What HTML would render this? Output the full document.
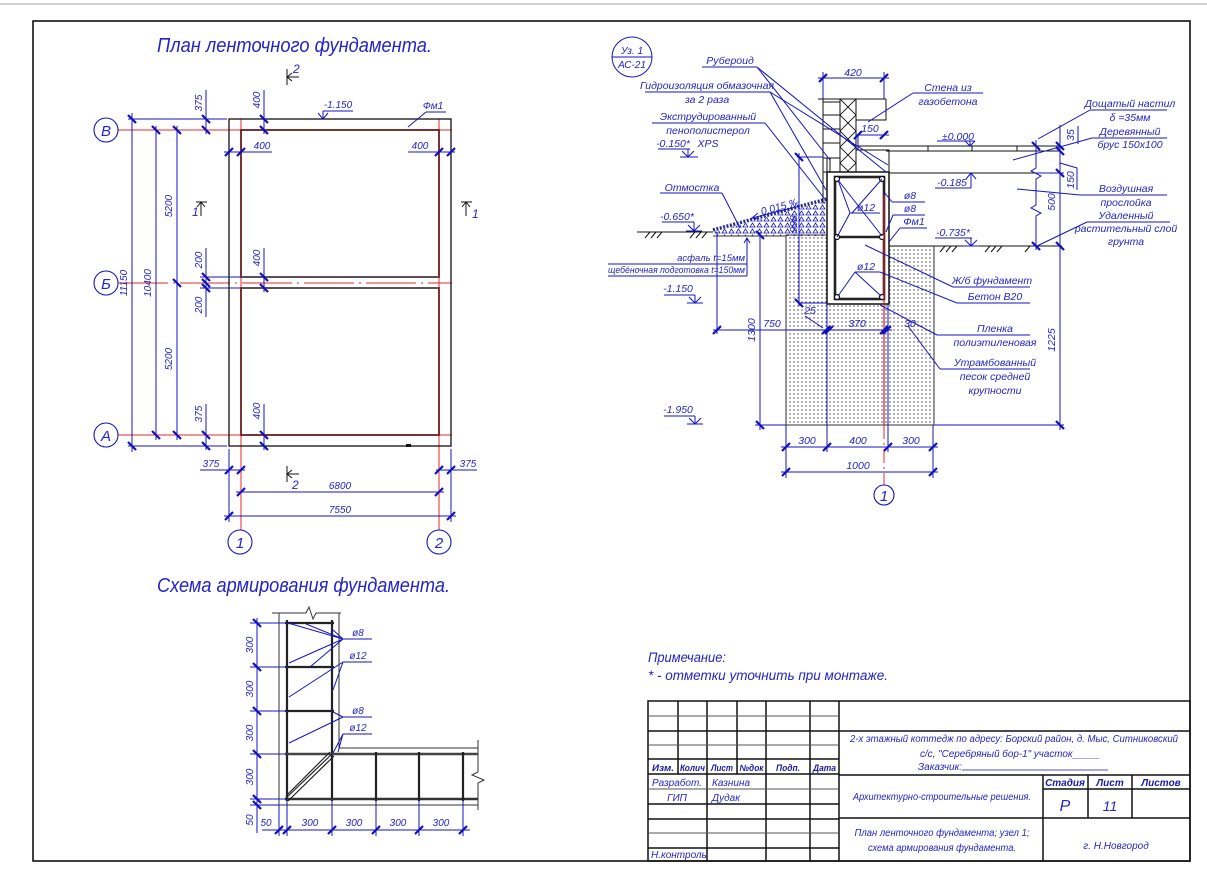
<!DOCTYPE html>
<html><head><meta charset="utf-8"><style>
html,body{margin:0;padding:0;background:#fff;}
svg{display:block}
text{font-family:"Liberation Sans","DejaVu Sans",sans-serif;font-style:italic;fill:#2424c8;}
.b{font-weight:bold;fill:#1a1aa8}
</style></head><body>
<svg width="1207" height="875" viewBox="0 0 1207 875" xmlns="http://www.w3.org/2000/svg">
<defs>
<pattern id="dots" width="4" height="4" patternUnits="userSpaceOnUse"><circle cx="2" cy="2" r="0.7" fill="#3a3a5a"/></pattern>
<pattern id="tri" width="7" height="6" patternUnits="userSpaceOnUse"><path d="M1,5 L3.5,1 L6,5 Z" fill="none" stroke="#1a1ab0" stroke-width="0.8"/></pattern>
<pattern id="xh" width="16" height="16" patternUnits="userSpaceOnUse" patternTransform="translate(840,99)"><path d="M0,0 L16,16 M16,0 L0,16" stroke="#111" stroke-width="0.9"/></pattern>
</defs>
<rect width="1207" height="875" fill="#fff"/>
<line x1="0" y1="4" x2="1207" y2="4" stroke="#d0d0d0" stroke-width="2"/>
<!-- frame -->
<rect x="33" y="21" width="1157" height="840" fill="none" stroke="#111" stroke-width="1.6"/>

<!-- ================= PLAN ================= -->
<text x="157" y="52" font-size="20" textLength="275" lengthAdjust="spacingAndGlyphs">План ленточного фундамента.</text>

<g stroke="#e02a2a" stroke-width="1" fill="none">
<line x1="118" y1="130" x2="452" y2="130"/>
<line x1="118" y1="283" x2="452" y2="283" stroke-dasharray="50,5,2,5"/>
<line x1="118" y1="435" x2="452" y2="435"/>
<line x1="241" y1="119" x2="241" y2="530"/>
<line x1="439" y1="119" x2="439" y2="530"/>
</g>
<rect x="229" y="119" width="222" height="327" fill="none" stroke="#111" stroke-width="1.3"/>
<rect x="241" y="130" width="198" height="147" fill="none" stroke="#6b1c1c" stroke-width="1.8"/>
<rect x="241" y="288" width="198" height="147" fill="none" stroke="#6b1c1c" stroke-width="1.8"/>
<line x1="241" y1="277" x2="439" y2="277" stroke="#555" stroke-width="1.8"/>
<line x1="241" y1="288" x2="439" y2="288" stroke="#555" stroke-width="1.8"/>
<rect x="406" y="444" width="5" height="3" fill="#111"/>

<!-- axis circles -->
<g fill="#fff" stroke="#1515c0" stroke-width="1.1">
<circle cx="106" cy="130" r="12"/><circle cx="106" cy="283" r="12"/><circle cx="106" cy="435" r="12"/>
<circle cx="240" cy="542" r="12"/><circle cx="439" cy="542" r="12"/>
</g>
<g font-size="15" text-anchor="middle">
<text x="106" y="136">В</text><text x="106" y="289">Б</text><text x="106" y="441">А</text>
<text x="240" y="548">1</text><text x="439" y="548">2</text>
</g>

<!-- plan dim lines -->
<g stroke="#1515c0" stroke-width="1" fill="none">
<line x1="132" y1="113" x2="132" y2="452"/>
<line x1="156" y1="126" x2="156" y2="440"/>
<line x1="177" y1="126" x2="177" y2="440"/>
<line x1="206" y1="90" x2="206" y2="134"/>
<line x1="206" y1="248" x2="206" y2="317"/>
<line x1="206" y1="404" x2="206" y2="450"/>
<line x1="264" y1="90" x2="264" y2="134"/>
<line x1="264" y1="248" x2="264" y2="292"/>
<line x1="264" y1="404" x2="264" y2="450"/>
<line x1="128" y1="119" x2="227" y2="119"/>
<line x1="128" y1="446" x2="227" y2="446"/>
<line x1="200" y1="277" x2="241" y2="277"/>
<line x1="200" y1="288" x2="241" y2="288"/>
<line x1="224" y1="152" x2="272" y2="152"/>
<line x1="408" y1="152" x2="455" y2="152"/>
<line x1="200" y1="470" x2="245" y2="470"/>
<line x1="436" y1="470" x2="477" y2="470"/>
<line x1="236" y1="492" x2="444" y2="492"/>
<line x1="224" y1="516" x2="456" y2="516"/>
<line x1="229" y1="449" x2="229" y2="522"/>
<line x1="451" y1="449" x2="451" y2="522"/>
<line x1="323" y1="111" x2="353" y2="111"/>
<line x1="323" y1="111" x2="323" y2="119"/>
<path d="M318,113 L323,119 L328,113"/>
<line x1="408" y1="127" x2="426" y2="112"/><line x1="426" y1="112" x2="446" y2="112"/>
</g>
<g stroke="#1010c0" stroke-width="2.2">
<path d="M128,115 L136,123 M128,442 L136,450 M152,126 L160,134 M152,431 L160,439 M173,126 L181,134 M173,279 L181,287 M173,431 L181,439
M202,115 L210,123 M202,126 L210,134 M202,273 L210,281 M202,279 L210,287 M202,284 L210,292 M202,431 L210,439 M202,442 L210,450
M260,115 L268,123 M260,126 L268,134 M260,273 L268,281 M260,284 L268,292 M260,431 L268,439 M260,442 L268,450"/>
<path d="M225,156 L233,148 M237,156 L245,148 M435,156 L443,148 M447,156 L455,148
M225,474 L233,466 M237,474 L245,466 M435,474 L443,466 M447,474 L455,466
M237,496 L245,488 M435,496 L443,488 M225,520 L233,512 M447,520 L455,512"/>
</g>
<g font-size="10" text-anchor="middle">
<text transform="rotate(-90 127 283)" x="127" y="283">11150</text>
<text transform="rotate(-90 151 283)" x="151" y="283">10400</text>
<text transform="rotate(-90 172 206)" x="172" y="206">5200</text>
<text transform="rotate(-90 172 359)" x="172" y="359">5200</text>
<text transform="rotate(-90 202 103)" x="202" y="103">375</text>
<text transform="rotate(-90 260 100)" x="260" y="100">400</text>
<text transform="rotate(-90 202 260)" x="202" y="260">200</text>
<text transform="rotate(-90 260 258)" x="260" y="258">400</text>
<text transform="rotate(-90 202 305)" x="202" y="305">200</text>
<text transform="rotate(-90 202 414)" x="202" y="414">375</text>
<text transform="rotate(-90 260 411)" x="260" y="411">400</text>
<text x="262" y="149">400</text>
<text x="420" y="149">400</text>
<text x="211" y="467">375</text>
<text x="468" y="467">375</text>
<text x="340" y="489">6800</text>
<text x="340" y="513">7550</text>
<text x="338" y="108">-1.150</text>
<text x="433" y="109">Фм1</text>
</g>
<!-- section marks -->
<g stroke="#111" stroke-width="1" fill="none">
<line x1="287" y1="69" x2="287" y2="85"/><line x1="287" y1="77" x2="299" y2="77"/><path d="M292,73 L287,77 L292,81"/>
<line x1="287" y1="466" x2="287" y2="482"/><line x1="287" y1="474" x2="299" y2="474"/><path d="M292,470 L287,474 L292,478"/>
<line x1="196" y1="202" x2="207" y2="202"/><line x1="201" y1="202" x2="201" y2="216"/><path d="M197,207 L201,202 L205,207"/>
<line x1="461" y1="202" x2="472" y2="202"/><line x1="466" y1="202" x2="466" y2="216"/><path d="M462,207 L466,202 L470,207"/>
</g>
<g font-size="12">
<text x="293" y="73">2</text><text x="292" y="489">2</text>
<text x="192" y="216">1</text><text x="472" y="218">1</text>
</g>

<!-- ================= REINFORCEMENT SCHEME ================= -->
<text x="157" y="592" font-size="20" textLength="293" lengthAdjust="spacingAndGlyphs">Схема армирования фундамента.</text>
<g stroke="#333" stroke-width="1" fill="none">
<line x1="272" y1="613" x2="306" y2="613"/><path d="M306,613 L309,607 L313,619 L316,613"/><line x1="316" y1="613" x2="341" y2="613"/>
<line x1="279" y1="613" x2="279" y2="805"/>
<line x1="339" y1="613" x2="339" y2="748"/>
<line x1="339" y1="748" x2="478" y2="748"/>
<line x1="279" y1="805" x2="478" y2="805"/>
<path d="M478,740 L478,772 L472,775 L484,780 L478,783 L478,810"/>
</g>
<g stroke="#222" stroke-width="2.2" fill="none">
<line x1="287" y1="620" x2="287" y2="801"/>
<line x1="332" y1="620" x2="332" y2="801"/>
<line x1="285" y1="623" x2="334" y2="623"/>
<line x1="285" y1="667" x2="334" y2="667"/>
<line x1="285" y1="711" x2="334" y2="711"/>
<line x1="285" y1="754" x2="478" y2="754" stroke="#444" stroke-width="2.6"/>
<line x1="285" y1="799" x2="478" y2="799" stroke="#333" stroke-width="2.6"/>
<line x1="376" y1="752" x2="376" y2="801"/>
<line x1="419" y1="752" x2="419" y2="801"/>
<line x1="463" y1="752" x2="463" y2="801"/>
<path d="M285,799 L332,754 M288,801 L334,756 M286,796 L330,752" stroke-width="1.2"/>
</g>
<g stroke="#1515c0" stroke-width="1" fill="none">
<line x1="343" y1="639" x2="372" y2="639"/><line x1="343" y1="662" x2="372" y2="662"/>
<line x1="343" y1="717" x2="372" y2="717"/><line x1="343" y1="734" x2="372" y2="734"/>
<path d="M343,639 L288,623 M343,639 L306,624 M343,639 L289,663 M343,639 L310,667 M343,639 L333,630"/>
<path d="M343,662 L289,697 M343,662 L333,690"/>
<path d="M343,717 L289,743 M343,717 L333,712"/>
<path d="M343,734 L333,753 M343,734 L338,752"/>
<line x1="257" y1="618" x2="257" y2="833"/>
<line x1="250" y1="623" x2="287" y2="623"/><line x1="250" y1="667" x2="287" y2="667"/>
<line x1="250" y1="711" x2="287" y2="711"/><line x1="250" y1="754" x2="287" y2="754"/>
<line x1="250" y1="799" x2="287" y2="799"/><line x1="250" y1="805" x2="279" y2="805"/>
<line x1="262" y1="830" x2="470" y2="830"/>
<line x1="279" y1="805" x2="279" y2="836"/><line x1="287" y1="801" x2="287" y2="836"/>
<line x1="332" y1="801" x2="332" y2="836"/><line x1="376" y1="801" x2="376" y2="836"/>
<line x1="419" y1="801" x2="419" y2="836"/><line x1="463" y1="801" x2="463" y2="836"/>
</g>
<g stroke="#1010c0" stroke-width="2.2">
<path d="M253,619 L261,627 M253,663 L261,671 M253,707 L261,715 M253,750 L261,758 M253,795 L261,803 M253,801 L261,809
M275,834 L283,826 M283,834 L291,826 M328,834 L336,826 M372,834 L380,826 M415,834 L423,826 M459,834 L467,826"/>
</g>
<g font-size="10" text-anchor="middle">
<text transform="rotate(-90 253 645)" x="253" y="645">300</text>
<text transform="rotate(-90 253 689)" x="253" y="689">300</text>
<text transform="rotate(-90 253 733)" x="253" y="733">300</text>
<text transform="rotate(-90 253 777)" x="253" y="777">300</text>
<text transform="rotate(-90 253 820)" x="253" y="820">50</text>
<text x="266" y="826">50</text>
<text x="310" y="826">300</text><text x="354" y="826">300</text>
<text x="398" y="826">300</text><text x="441" y="826">300</text>
<text x="358" y="636">ø8</text><text x="358" y="659">ø12</text>
<text x="358" y="714">ø8</text><text x="358" y="731">ø12</text>
</g>

<!-- ================= SECTION ================= -->
<circle cx="632" cy="57" r="20" fill="none" stroke="#1515c0" stroke-width="1"/>
<line x1="612" y1="57" x2="652" y2="57" stroke="#1515c0" stroke-width="1"/>
<g font-size="10" text-anchor="middle">
<text x="632" y="54">Уз. 1</text><text x="632" y="68">АС-21</text>
</g>

<path d="M786,235 L827,235 L827,304 L889,304 L889,246 L934,246 L934,425 L786,425 Z" fill="url(#dots)" stroke="#333" stroke-width="1"/>
<path d="M713,232 L827,201 L827,236 L716,236 Z" fill="url(#tri)" stroke="none"/>
<path d="M713,230 L827,199" stroke="#2a2a90" stroke-width="3.5" stroke-dasharray="2,1.5" fill="none"/>
<line x1="713" y1="236" x2="786" y2="236" stroke="#333" stroke-width="1"/>
<g stroke="#111" stroke-width="1" fill="none">
<line x1="637" y1="232" x2="713" y2="232"/>
<path d="M645,238 L650,232 M651,238 L656,232 M657,238 L662,232 M690,238 L695,232 M696,238 L701,232 M702,238 L707,232"/>
<line x1="889" y1="246" x2="1062" y2="246"/>
<path d="M940,252 L945,246 M946,252 L951,246 M952,252 L957,246 M985,252 L990,246 M991,252 L996,246 M997,252 L1002,246 M1025,252 L1030,246"/>
<line x1="823" y1="158" x2="823" y2="203"/>
<line x1="827" y1="158" x2="827" y2="172"/>
<line x1="818" y1="99" x2="886" y2="99"/>
<rect x="823" y="99" width="17" height="73"/>
<path d="M823,102 L840,102 M823,115 L840,115 M823,129 L840,129 M823,143 L840,143 M823,158 L840,158 M830,158 L830,172"/>
<rect x="840" y="99" width="16" height="73" fill="url(#xh)"/>
<path d="M856,120 L886,120 L886,99 M856,150 L889,150 L889,172"/>
<line x1="856" y1="146" x2="1060" y2="146"/>
<line x1="886" y1="151" x2="1060" y2="151"/>
<path d="M928,146 L928,151 M972,146 L972,151 M1017,146 L1017,151"/>
<line x1="889" y1="173" x2="1040" y2="173"/>
</g>
<rect x="827" y="172" width="62" height="132" fill="#fff" stroke="#111" stroke-width="1.5"/>
<rect x="835" y="177" width="49" height="122" fill="none" stroke="#222" stroke-width="2.6"/>
<line x1="835" y1="237" x2="884" y2="237" stroke="#222" stroke-width="2.6"/>
<g fill="#fff" stroke="#111" stroke-width="1.2">
<circle cx="837" cy="179" r="2.5"/><circle cx="882" cy="179" r="2.5"/>
<circle cx="837" cy="237" r="2.5"/><circle cx="882" cy="237" r="2.5"/>
<circle cx="837" cy="297" r="2.5"/><circle cx="882" cy="297" r="2.5"/>
</g>
<line x1="884" y1="195" x2="884" y2="425" stroke="#d02020" stroke-width="1.2"/>
<line x1="884" y1="425" x2="884" y2="485" stroke="#e02a2a" stroke-width="1" stroke-dasharray="14,4,2,4"/>
<circle cx="884" cy="495" r="10" fill="#fff" stroke="#1515c0" stroke-width="1.1"/>
<text x="884" y="501" font-size="15" text-anchor="middle">1</text>

<g stroke="#1515c0" stroke-width="1" fill="none">
<line x1="702" y1="67" x2="757" y2="67"/><line x1="757" y1="67" x2="886" y2="172"/><line x1="757" y1="67" x2="830" y2="160"/>
<line x1="645" y1="92" x2="770" y2="92"/><line x1="770" y1="92" x2="826" y2="190"/><line x1="770" y1="92" x2="888" y2="165"/>
<line x1="652" y1="123" x2="765" y2="123"/><line x1="765" y1="123" x2="824" y2="198"/>
<line x1="658" y1="149" x2="690" y2="149"/><path d="M688,149 L688,157 M682,151 L688,157 L694,151 M680,157 L698,157"/>
<line x1="660" y1="193" x2="722" y2="193"/><line x1="722" y1="193" x2="740" y2="228"/>
<line x1="662" y1="222" x2="694" y2="222"/><path d="M694,222 L694,231 M688,225 L694,231 L700,225 M686,231 L702,231"/>
<line x1="752" y1="218" x2="800" y2="206"/><path d="M758,213 L752,218 L759,219"/>
<line x1="608" y1="264" x2="747" y2="264"/><line x1="608" y1="276" x2="747" y2="276"/>
<line x1="747" y1="238" x2="747" y2="276"/><path d="M744,243 L747,238 L750,243"/>
<line x1="717" y1="232" x2="717" y2="334"/>
<line x1="664" y1="295" x2="695" y2="295"/><path d="M695,295 L695,303 M689,297 L695,303 L701,297 M687,303 L703,303"/>
<line x1="664" y1="416" x2="695" y2="416"/><path d="M695,416 L695,424 M689,418 L695,424 L701,418 M687,424 L703,424"/>
<line x1="799" y1="153" x2="799" y2="306"/><line x1="797" y1="157" x2="823" y2="157"/><line x1="799" y1="303" x2="827" y2="303"/>
<line x1="713" y1="330" x2="892" y2="330"/>
<line x1="805" y1="316" x2="823" y2="328"/>
<line x1="760" y1="232" x2="760" y2="430"/>
<line x1="755" y1="425" x2="786" y2="425"/><line x1="934" y1="425" x2="1064" y2="425"/>
<line x1="827" y1="304" x2="827" y2="452"/><line x1="888" y1="304" x2="888" y2="452"/>
<line x1="786" y1="425" x2="786" y2="478"/><line x1="933" y1="425" x2="933" y2="478"/>
<line x1="781" y1="447" x2="938" y2="447"/><line x1="781" y1="472" x2="938" y2="472"/>
<line x1="823" y1="72" x2="823" y2="99"/><line x1="884" y1="72" x2="884" y2="99"/><line x1="818" y1="78" x2="889" y2="78"/>
<line x1="856" y1="135" x2="889" y2="135"/><line x1="858" y1="135" x2="858" y2="150"/>
<line x1="913" y1="93" x2="983" y2="93"/><line x1="913" y1="93" x2="868" y2="122"/>
<line x1="935" y1="188" x2="971" y2="188"/><path d="M971,188 L971,173 M966,179 L971,173 L976,179"/>
<line x1="935" y1="238" x2="972" y2="238"/><path d="M971,238 L971,246 M965,240 L971,246 L977,240 M963,246 L979,246"/>
<line x1="1038" y1="139" x2="1090" y2="110"/><line x1="1090" y1="110" x2="1167" y2="110"/>
<line x1="1013" y1="160" x2="1092" y2="138"/><line x1="1092" y1="138" x2="1167" y2="138"/>
<line x1="1017" y1="189" x2="1080" y2="195"/><line x1="1080" y1="195" x2="1167" y2="195"/>
<line x1="1037" y1="246" x2="1087" y2="222"/><line x1="1087" y1="222" x2="1170" y2="222"/>
<path d="M1036,140 L1036,168 L1031,171 L1041,176 L1036,179 L1036,205 L1031,208 L1041,213 L1036,216 L1036,250"/>
<line x1="1036" y1="173" x2="1064" y2="173"/>
<line x1="1060" y1="125" x2="1060" y2="430"/>
<line x1="1078" y1="126" x2="1078" y2="144"/>
<path d="M1060,163 L1077,168 L1077,190"/>
<line x1="892" y1="202" x2="925" y2="202"/><line x1="892" y1="202" x2="884" y2="192"/>
<line x1="893" y1="215" x2="925" y2="215"/><line x1="893" y1="215" x2="886" y2="232"/>
<line x1="900" y1="228" x2="927" y2="228"/><line x1="900" y1="228" x2="889" y2="242"/>
<line x1="850" y1="213" x2="880" y2="213"/><path d="M850,213 L838,180 M850,213 L837,237 M852,213 L882,179"/><line x1="838" y1="180" x2="882" y2="236"/>
<line x1="855" y1="272" x2="880" y2="272"/><path d="M855,272 L838,296 M855,272 L881,296"/>
<line x1="880" y1="272" x2="957" y2="303"/><line x1="957" y1="303" x2="1030" y2="303"/>
<line x1="865" y1="245" x2="953" y2="287"/><line x1="953" y1="287" x2="1030" y2="287"/>
<line x1="880" y1="305" x2="937" y2="335"/><line x1="937" y1="335" x2="1030" y2="335"/>
<line x1="908" y1="326" x2="940" y2="369"/><line x1="940" y1="369" x2="1030" y2="369"/>
</g>
<g stroke="#1010c0" stroke-width="2.2">
<path d="M819,82 L827,74 M880,82 L888,74 M854,139 L862,131 M880,139 L888,131
M795,153 L803,161 M795,299 L803,307
M713,334 L721,326 M822,334 L830,326 M825,334 L833,326 M880,334 L888,326 M883,334 L891,326
M756,231 L764,239 M756,421 L764,429
M782,451 L790,443 M823,451 L831,443 M884,451 L892,443 M929,451 L937,443 M782,476 L790,468 M929,476 L937,468
M1032,142 L1040,150 M1032,242 L1040,250
M1056,142 L1064,150 M1056,147 L1064,155 M1056,169 L1064,177 M1056,242 L1064,250 M1056,421 L1064,429"/>
</g>
<g font-size="10.5" text-anchor="middle">
<text x="730" y="64">Рубероид</text>
<text x="707" y="89">Гидроизоляция обмазочная</text>
<text x="707" y="103">за 2 раза</text>
<text x="708" y="120">Экструдированный</text>
<text x="708" y="134">пенополистерол</text>
<text x="708" y="147">XPS</text>
<text x="673" y="147">-0.150*</text>
<text x="692" y="191">Отмостка</text>
<text x="677" y="220">-0.650*</text>
<text transform="rotate(-15 781 210)" x="781" y="210">0.015 ‰</text>
<text x="853" y="76">420</text>
<text x="870" y="132">150</text>
<text x="948" y="91">Стена из</text>
<text x="948" y="105">газобетона</text>
<text x="958" y="140">±0.000</text>
<text x="1130" y="107">Дощатый настил</text>
<text x="1130" y="121">δ =35мм</text>
<text x="1130" y="135">Деревянный</text>
<text x="1130" y="148">брус 150x100</text>
<text x="952" y="186">-0.185</text>
<text x="1126" y="192">Воздушная</text>
<text x="1126" y="206">прослойка</text>
<text x="1126" y="219">Удаленный</text>
<text x="1126" y="232">растительный слой</text>
<text x="1126" y="245">грунта</text>
<text x="953" y="236">-0.735*</text>
<text x="910" y="199">ø8</text>
<text x="910" y="212">ø8</text>
<text x="914" y="225">Фм1</text>
<text x="866" y="211">ø12</text>
<text x="866" y="270">ø12</text>
<text x="992" y="284">Ж/б фундамент</text>
<text x="995" y="300">Бетон B20</text>
<text x="995" y="332">Пленка</text>
<text x="995" y="346">полиэтиленовая</text>
<text x="995" y="366">Утрамбованный</text>
<text x="995" y="380">песок средней</text>
<text x="995" y="394">крупности</text>
<text x="910" y="327">30</text>
<text x="810" y="314">25</text>
<text x="772" y="327">750</text>
<text x="857" y="327">370</text>
<text x="807" y="444">300</text>
<text x="858" y="444">400</text>
<text x="911" y="444">300</text>
<text x="858" y="469">1000</text>
<text x="678" y="292">-1.150</text>
<text x="678" y="413">-1.950</text>
<text transform="rotate(-90 797 224)" x="797" y="224">998</text>
<text transform="rotate(-90 755 330)" x="755" y="330">1300</text>
<text transform="rotate(-90 1055 340)" x="1055" y="340">1225</text>
<text transform="rotate(-90 1055 202)" x="1055" y="202">500</text>
<text transform="rotate(-90 1074 135)" x="1074" y="135">35</text>
<text transform="rotate(-90 1074 180)" x="1074" y="180">150</text>
</g>
<text x="745" y="261" font-size="9.5" text-anchor="end">асфаль t=15мм</text>
<text x="608" y="273" font-size="9.5" textLength="137" lengthAdjust="spacingAndGlyphs">щебёночная подготовка t=150мм</text>
<line x1="937" y1="141" x2="975" y2="141" stroke="#1515c0"/>
<path d="M970,141 L970,146 M965,141 L970,146 L975,141" stroke="#1515c0" fill="none"/>

<!-- notes -->
<text x="648" y="662" font-size="13.5" textLength="78" lengthAdjust="spacingAndGlyphs">Примечание:</text>
<text x="648" y="680" font-size="13.5" textLength="240" lengthAdjust="spacingAndGlyphs">* - отметки уточнить при монтаже.</text>

<!-- ================= TITLE BLOCK ================= -->
<g stroke="#111" stroke-width="1.5" fill="none">
<rect x="648" y="701" width="542" height="160"/>
<line x1="839" y1="701" x2="839" y2="861"/>
<path d="M678,701 L678,774 M707,701 L707,861 M737,701 L737,774 M766,701 L766,861 M810,701 L810,861"/>
<path d="M648,731 L839,731 M648,759 L839,759 M648,774 L839,774 M648,804 L839,804 M648,819 L839,819 M648,848 L839,848"/>
<path d="M839,731 L1190,731 M839,775 L1190,775 M839,818 L1190,818"/>
<path d="M1043,775 L1043,861 M1088,775 L1088,818 M1132,775 L1132,818 M1043,789 L1190,789"/>
</g>
<g stroke="#555" stroke-width="1" fill="none">
<path d="M648,716 L839,716 M648,745 L839,745 M648,789 L839,789 M648,833 L839,833"/>
</g>
<g font-size="9" text-anchor="middle">
<text class="b" x="663" y="771" textLength="22" lengthAdjust="spacingAndGlyphs">Изм.</text>
<text class="b" x="692.5" y="771" textLength="25" lengthAdjust="spacingAndGlyphs">Колич</text>
<text class="b" x="722" y="771" textLength="22" lengthAdjust="spacingAndGlyphs">Лист</text>
<text class="b" x="751.5" y="771" textLength="24" lengthAdjust="spacingAndGlyphs">№док</text>
<text class="b" x="788" y="771" textLength="24" lengthAdjust="spacingAndGlyphs">Подп.</text>
<text class="b" x="824.5" y="771" textLength="23" lengthAdjust="spacingAndGlyphs">Дата</text>
</g>
<g font-size="10" text-anchor="middle">
<text class="b" x="1065" y="786">Стадия</text>
<text class="b" x="1110" y="786">Лист</text>
<text class="b" x="1161" y="786">Листов</text>
</g>
<g font-size="10">
<text x="677" y="786" text-anchor="middle">Разработ.</text>
<text x="712" y="786">Казнина</text>
<text x="677" y="801" text-anchor="middle">ГИП</text>
<text x="712" y="801">Дудак</text>
<text x="651" y="858">Н.контроль</text>
<text x="850" y="742" textLength="328" lengthAdjust="spacingAndGlyphs">2-х этажный коттедж по адресу: Борский район, д. Мыс, Ситниковский</text>
<text x="920" y="757" textLength="180" lengthAdjust="spacingAndGlyphs">с/с, "Серебряный бор-1" участок_____</text>
<text x="918" y="770">Заказчик:</text>
<text x="942" y="800" text-anchor="middle" textLength="178" lengthAdjust="spacingAndGlyphs">Архитектурно-строительные решения.</text>
<text x="942" y="836" text-anchor="middle" textLength="175" lengthAdjust="spacingAndGlyphs">План ленточного фундамента; узел 1;</text>
<text x="942" y="851" text-anchor="middle" textLength="148" lengthAdjust="spacingAndGlyphs">схема армирования фундамента.</text>
<text x="1116" y="849" text-anchor="middle">г. Н.Новгород</text>
</g>
<line x1="962" y1="770" x2="1108" y2="770" stroke="#1515c0" stroke-width="0.8"/>
<text x="1065" y="811" font-size="16" text-anchor="middle">Р</text>
<text x="1110" y="811" font-size="14" text-anchor="middle">11</text>
</svg>
</body></html>
